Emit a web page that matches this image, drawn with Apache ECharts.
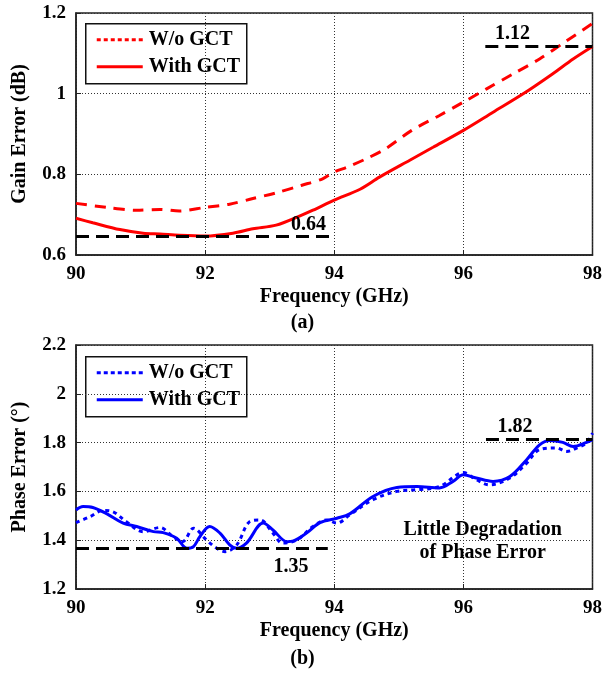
<!DOCTYPE html>
<html>
<head>
<meta charset="utf-8">
<script src="https://cdn.jsdelivr.net/npm/echarts@6/dist/echarts.min.js"></script>
<style>
html,body{margin:0;padding:0;background:#fff;}
#c{width:605px;height:675px;}
</style>
</head>
<body>
<div id="c"></div>
<script>
// ---- Data ----
var xTicks = [90, 92, 94, 96, 98];

// (a) Gain error, dB
var gainWithF = [90, 90.26, 90.68, 91.04, 91.3, 91.6, 92, 92.43, 92.74, 93.1, 93.47, 93.67, 94, 94.4, 94.7, 95.17, 95.53, 96, 96.46, 96.92, 97.38, 97.7, 98];
var gainWith  = [0.691, 0.680, 0.663, 0.654, 0.652, 0.649, 0.647, 0.654, 0.665, 0.674, 0.697, 0.711, 0.736, 0.763, 0.793, 0.835, 0.867, 0.909, 0.954, 0.999, 1.049, 1.086, 1.117];
var gainWoF   = [90, 90.48, 90.94, 91.3, 91.6, 92, 92.38, 92.74, 93.1, 93.5, 93.82, 94, 94.2, 94.5, 94.8, 95.2, 95.63, 96, 96.36, 96.77, 97.18, 97.6, 98];
var gainWo    = [0.728, 0.718, 0.711, 0.713, 0.709, 0.718, 0.726, 0.740, 0.754, 0.773, 0.789, 0.806, 0.818, 0.839, 0.864, 0.909, 0.946, 0.979, 1.012, 1.049, 1.086, 1.131, 1.174];

// (b) Phase error, degrees
var phaseWithF = [90, 90.11, 90.26, 90.48, 90.73, 90.94, 91.2, 91.35, 91.56, 91.72, 91.82, 91.92, 92.07, 92.23, 92.38, 92.49, 92.64, 92.9, 93.05, 93.27, 93.37, 93.57, 93.78, 94.04, 94.24, 94.6, 94.97, 95.28, 95.63, 95.84, 96, 96.2, 96.46, 96.72, 96.98, 97.18, 97.34, 97.54, 97.7, 97.91, 98];
var phaseWith  = [1.524, 1.538, 1.534, 1.508, 1.470, 1.456, 1.435, 1.431, 1.408, 1.367, 1.374, 1.415, 1.456, 1.429, 1.381, 1.367, 1.388, 1.470, 1.442, 1.394, 1.397, 1.429, 1.472, 1.490, 1.508, 1.579, 1.616, 1.620, 1.614, 1.641, 1.668, 1.655, 1.641, 1.661, 1.730, 1.791, 1.809, 1.801, 1.784, 1.801, 1.812];
var phaseWoF   = [90, 90.22, 90.42, 90.57, 90.78, 91.04, 91.3, 91.5, 91.65, 91.82, 92.02, 92.18, 92.31, 92.49, 92.69, 92.85, 93.05, 93.2, 93.42, 93.67, 93.88, 94.04, 94.24, 94.6, 94.97, 95.28, 95.63, 95.9, 96, 96.2, 96.4, 96.72, 96.98, 97.18, 97.44, 97.6, 97.76, 97.91, 98];
var phaseWo    = [1.472, 1.497, 1.522, 1.517, 1.476, 1.435, 1.452, 1.415, 1.394, 1.449, 1.401, 1.367, 1.353, 1.381, 1.476, 1.483, 1.429, 1.388, 1.401, 1.456, 1.483, 1.470, 1.504, 1.566, 1.600, 1.607, 1.620, 1.668, 1.677, 1.648, 1.627, 1.655, 1.716, 1.771, 1.778, 1.764, 1.778, 1.799, 1.839];

// reference lines: [x0, x1, y]
var gainRefLo  = [90, 93.93, 0.647];
var gainRefHi  = [96.34, 98, 1.117];
var phaseRefLo = [90, 93.9, 1.365];
var phaseRefHi = [96.35, 98, 1.812];

// annotation labels: [text, x, y]
var gainLabels  = [['0.64', 93.6, 0.674], ['1.12', 96.76, 1.148]];
var phaseLabels = [['1.35', 93.33, 1.29], ['1.82', 96.8, 1.865], ['Little Degradation\nof Phase Error', 96.3, 1.397]];

var legendNames = ['W/o GCT', 'With GCT'];

function pairs(xs, ys) { return xs.map(function (x, i) { return [x, ys[i]]; }); }

var FONT = "'Liberation Serif', 'Times New Roman', serif";
var txt = { fontFamily: FONT, fontWeight: 'bold', color: '#000' };

function xAxisDef(gi) {
  return {
    type: 'value', gridIndex: gi, min: 90, max: 98, interval: 2,
    name: 'Frequency (GHz)', nameLocation: 'middle', nameGap: 32,
    nameTextStyle: Object.assign({ fontSize: 20 }, txt),
    axisLine: { show: true, lineStyle: { color: '#222', width: 1.5 } },
    axisTick: { show: true, inside: true, length: 5, lineStyle: { color: '#222' } },
    axisLabel: Object.assign({ fontSize: 19, margin: 10 }, txt),
    splitLine: { show: true, lineStyle: { color: '#333', type: [1, 2], width: 1 } }
  };
}
function yAxisDef(gi, min, max, name) {
  return {
    type: 'value', gridIndex: gi, min: min, max: max, interval: 0.2,
    name: name, nameLocation: 'middle', nameGap: 46,
    nameTextStyle: Object.assign({ fontSize: 20 }, txt),
    axisLine: { show: true, lineStyle: { color: '#222', width: 1.5 } },
    axisTick: { show: true, inside: true, length: 5, lineStyle: { color: '#222' } },
    axisLabel: Object.assign({ fontSize: 19, margin: 10 }, txt),
    splitLine: { show: true, lineStyle: { color: '#333', type: [1, 2], width: 1 } }
  };
}

function refSeries(ref, xi, labels) {
  return {
    type: 'line', xAxisIndex: xi, yAxisIndex: xi, silent: true,
    data: [], symbol: 'none', z: 5,
    markLine: {
      symbol: 'none', silent: true, animation: false,
      lineStyle: { color: '#000', width: 3, type: [13, 7] },
      label: { show: false },
      data: ref.map(function (r) { return [{ coord: [r[0], r[2]] }, { coord: [r[1], r[2]] }]; })
    },
    markPoint: {
      symbol: 'circle', symbolSize: 0, silent: true, animation: false,
      label: Object.assign({ show: true, position: 'inside', fontSize: 20, lineHeight: 23, align: 'center', verticalAlign: 'middle',
        formatter: function (p) { return p.name; } }, txt),
      data: labels.map(function (l) { return { name: l[0], coord: [l[1], l[2]] }; })
    }
  };
}

// hand-drawn legend box (layout only)
function legendGraphic(x, y, color) {
  return {
    type: 'group', left: x, top: y, z: 100,
    children: [
      { type: 'rect', shape: { x: 0, y: 0, width: 161, height: 60 }, style: { fill: '#fff', stroke: '#111', lineWidth: 1.5 } },
      { type: 'line', shape: { x1: 11, y1: 16, x2: 57, y2: 16 }, style: { stroke: color, lineWidth: 3, lineDash: [4, 3] } },
      { type: 'line', shape: { x1: 11, y1: 43, x2: 57, y2: 43 }, style: { stroke: color, lineWidth: 3 } },
      { type: 'text', x: 63, y: 16, style: { text: legendNames[0], font: 'bold 20px ' + FONT, fill: '#000', verticalAlign: 'middle', textVerticalAlign: 'middle' } },
      { type: 'text', x: 63, y: 43, style: { text: legendNames[1], font: 'bold 20px ' + FONT, fill: '#000', verticalAlign: 'middle', textVerticalAlign: 'middle' } }
    ]
  };
}

var chart = echarts.init(document.getElementById('c'), null, { renderer: 'canvas' });
var option = {
  animation: false,
  backgroundColor: '#fff',
  grid: [
    { left: 76, right: 12, top: 13, height: 242, show: true, borderColor: '#222', borderWidth: 1.5, backgroundColor: 'transparent' },
    { left: 76, right: 12, top: 345, height: 244, show: true, borderColor: '#222', borderWidth: 1.5, backgroundColor: 'transparent' }
  ],
  xAxis: [xAxisDef(0), xAxisDef(1)],
  yAxis: [yAxisDef(0, 0.6, 1.2, 'Gain Error (dB)'), yAxisDef(1, 1.2, 2.2, 'Phase Error (°)')],
  graphic: [
    legendGraphic(85, 23, '#ff0000'),
    legendGraphic(85, 356, '#0000ff'),
    { type: 'text', left: 'center', top: 313, style: { text: '(a)', font: 'bold 20px ' + FONT, fill: '#000' } },
    { type: 'text', left: 'center', top: 649, style: { text: '(b)', font: 'bold 20px ' + FONT, fill: '#000' } }
  ],
  series: [
    { name: 'W/o GCT', type: 'line', xAxisIndex: 0, yAxisIndex: 0, data: pairs(gainWoF, gainWo), symbol: 'none', smooth: 0.3,
      lineStyle: { color: '#ff0000', width: 3, type: [11, 8] }, itemStyle: { color: '#ff0000' }, z: 3 },
    { name: 'With GCT', type: 'line', xAxisIndex: 0, yAxisIndex: 0, data: pairs(gainWithF, gainWith), symbol: 'none', smooth: 0.3,
      lineStyle: { color: '#ff0000', width: 3 }, itemStyle: { color: '#ff0000' }, z: 3 },
    { name: 'W/o GCT ', type: 'line', xAxisIndex: 1, yAxisIndex: 1, data: pairs(phaseWoF, phaseWo), symbol: 'none', smooth: 0.35,
      lineStyle: { color: '#0000ff', width: 3, type: [4, 4] }, itemStyle: { color: '#0000ff' }, z: 3 },
    { name: 'With GCT ', type: 'line', xAxisIndex: 1, yAxisIndex: 1, data: pairs(phaseWithF, phaseWith), symbol: 'none', smooth: 0.35,
      lineStyle: { color: '#0000ff', width: 3 }, itemStyle: { color: '#0000ff' }, z: 4 },
    refSeries([gainRefLo, gainRefHi], 0, gainLabels),
    refSeries([phaseRefLo, phaseRefHi], 1, phaseLabels)
  ]
};
chart.setOption(option);
</script>
</body>
</html>
